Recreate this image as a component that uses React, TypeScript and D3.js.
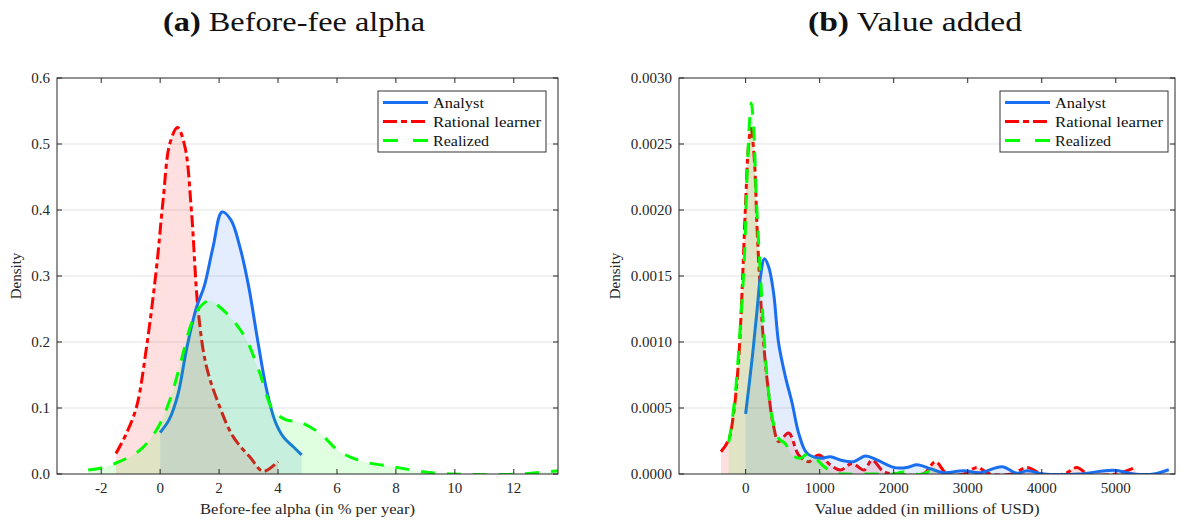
import React from 'react';
import * as d3 from 'd3';

// ---------- Panel (a): before-fee alpha ----------
const alphaXTicks = [-2, 0, 2, 4, 6, 8, 10, 12];
const alphaYTicks = [0, 0.1, 0.2, 0.3, 0.4, 0.5, 0.6];

const alphaAnalystX = [0, 0.3, 0.6, 0.9, 1.23, 1.5, 1.8, 2.1, 2.4, 2.7, 3.0, 3.3, 3.6, 3.9, 4.2, 4.5, 4.8];
const alphaAnalystY = [0.063, 0.082, 0.12, 0.19, 0.252, 0.285, 0.345, 0.397, 0.385, 0.345, 0.285, 0.205, 0.13, 0.08, 0.055, 0.042, 0.029];

const alphaRationalX = [-1.5, -1.14, -0.8, -0.46, -0.12, 0.1, 0.33, 0.59, 0.84, 1.06, 1.29, 1.57, 2.02, 2.47, 3.04, 3.5, 4.0];
const alphaRationalY = [0.031, 0.062, 0.102, 0.193, 0.314, 0.415, 0.501, 0.525, 0.496, 0.4, 0.248, 0.163, 0.102, 0.057, 0.026, 0.004, 0.019];

const alphaRealizedX = [-2.44, -1.93, -1.37, -0.69, -0.12, 0.33, 0.72, 1.06, 1.35, 1.68, 2.02, 2.47, 2.93, 3.38, 3.83, 4.28, 4.73, 5.41, 6.09, 6.88, 7.9, 8.92, 9.93, 11.1, 12.2, 13.5];
const alphaRealizedY = [0.006, 0.01, 0.019, 0.036, 0.067, 0.112, 0.173, 0.228, 0.253, 0.263, 0.253, 0.233, 0.203, 0.153, 0.097, 0.082, 0.079, 0.062, 0.034, 0.019, 0.011, 0.0035, 0, -0.001, 0, 0.005];

// ---------- Panel (b): value added ----------
const vaXTicks = [0, 1000, 2000, 3000, 4000, 5000];
const vaYTicks = [0, 0.0005, 0.001, 0.0015, 0.002, 0.0025, 0.003];

const vaAnalystX = [0, 86, 154, 199, 253, 311, 378, 446, 536, 627, 716, 829, 1009, 1145, 1280, 1459, 1618, 1776, 2000, 2180, 2316, 2496, 2676, 2946, 3172, 3464, 3667, 3802, 4023, 4500, 4973, 5243, 5513, 5716];
const vaAnalystY = [4.55, 8.64, 12.4, 14.9, 16.3, 15.7, 13.7, 9.9, 7.4, 5.4, 3.1, 1.57, 1.19, 1.31, 1.06, 0.93, 1.36, 1.06, 0.5, 0.5, 0.7, 0.4, 0.1, 0.25, 0.1, 0.55, 0.05, 0.25, 0, 0, 0.28, 0, 0, 0.33];

const vaRationalX = [-333, -230, -162, -95, -49, -4, 41, 73, 118, 154, 199, 243, 311, 378, 446, 581, 716, 848, 986, 1145, 1280, 1438, 1600, 1708, 1865, 2050, 2400, 2564, 2721, 2950, 3127, 3300, 3600, 3802, 4000, 4300, 4478, 4620, 5000, 5266];
const vaRationalY = [1.69, 2.58, 4.6, 8.6, 13.7, 20, 25, 26.2, 23.8, 18.7, 13.7, 9.9, 6.1, 3.6, 2.45, 3.1, 1.44, 0.93, 1.44, 0.68, 0.3, 0.8, 0.3, 1.06, 0.18, 0, 0, 0.93, 0, 0, 0.5, 0, 0, 0.5, 0, 0, 0.5, 0, 0, 0.5];

const vaRealizedX = [-230, -207, -139, -72, -18, 18, 54, 77, 108, 145, 189, 235, 289, 357, 446, 536, 627, 739, 829, 942, 1032, 1189, 1350, 1725, 2000, 2130, 2250, 2400, 2496, 2570];
const vaRealizedY = [2.4, 3.1, 6.1, 11.2, 16.2, 22.5, 26.8, 28.1, 26.3, 20.8, 16.2, 11.7, 7.4, 4.3, 2.7, 2.3, 1.44, 1.19, 1.5, 1.2, 0.7, 0.1, 0, 0, 0, 0.15, 0, 0, 0.3, 0.7];
const vaYScale = 1e-4; // value-added densities above are in units of 1e-4

const seriesNames = ['Analyst', 'Rational learner', 'Realized'];
const seriesColors = ['#1a6ef0', '#ff0000', '#00ff00'];
const seriesDash = ['none', '12,4,5,4', '14,12'];

type Series = { name: string; xs: number[]; ys: number[] };

const FONT = '"Liberation Serif", "Times New Roman", serif';

type PanelProps = {
  id: string;
  left: number; right: number; top: number; bottom: number;
  xDomain: [number, number]; yDomain: [number, number];
  xTicks: number[]; yTicks: number[];
  yFmt: (v: number) => string;
  series: Series[]; // analyst, rational, realized
  titleBold: string; titleRest: string; titleCx: number; titleLen: number;
  xLabel: string; xLabelLen: number;
  legendX: number; densityX: number;
};

function Panel(p: PanelProps) {
  const x = d3.scaleLinear().domain(p.xDomain).range([p.left, p.right]);
  const y = d3.scaleLinear().domain(p.yDomain).range([p.bottom, p.top]);
  const line = d3.line<[number, number]>().x(d => x(d[0])).y(d => y(d[1])).curve(d3.curveCatmullRom.alpha(0.5));
  const area = d3.area<[number, number]>().x(d => x(d[0])).y0(y(0)).y1(d => y(d[1])).curve(d3.curveCatmullRom.alpha(0.5));
  const drawOrder = [1, 0, 2];
  const axisColor = '#262626';
  const tickLen = 5;
  const lgTop = 91, lgH = 61, lgW = 168;
  const lx = p.legendX;
  return (
    <g>
      <defs>
        <clipPath id={`clip-${p.id}`}>
          <rect x={p.left} y={p.top} width={p.right - p.left} height={p.bottom - p.top} />
        </clipPath>
      </defs>
      {/* grid */}
      {p.yTicks.slice(1, -1).map((t, i) => (
        <line key={'g' + i} x1={p.left} x2={p.right} y1={y(t)} y2={y(t)} stroke="#e3e3e3" strokeWidth={1} />
      ))}
      <g clipPath={`url(#clip-${p.id})`}>
        {drawOrder.map(si => {
          const s = p.series[si];
          const pts = s.xs.map((v, i) => [v, s.ys[i]] as [number, number]);
          return (
            <g key={s.name}>
              <path d={area(pts) || ''} fill={seriesColors[si]} fillOpacity={0.12} stroke="none" />
              <path d={line(pts) || ''} fill="none" stroke={seriesColors[si]} strokeWidth={3}
                strokeDasharray={seriesDash[si]} strokeLinejoin="round" />
            </g>
          );
        })}
      </g>
      {/* box */}
      <rect x={p.left} y={p.top} width={p.right - p.left} height={p.bottom - p.top} fill="none" stroke={axisColor} strokeWidth={1} />
      {p.xTicks.map((t, i) => (
        <g key={'xt' + i}>
          <line x1={x(t)} x2={x(t)} y1={p.bottom} y2={p.bottom - tickLen} stroke={axisColor} />
          <line x1={x(t)} x2={x(t)} y1={p.top} y2={p.top + tickLen} stroke={axisColor} />
          <text x={x(t)} y={p.bottom + 19} textAnchor="middle" fontSize={15} fontFamily={FONT} fill="#262626">{String(t)}</text>
        </g>
      ))}
      {p.yTicks.map((t, i) => (
        <g key={'yt' + i}>
          <line x1={p.left} x2={p.left + tickLen} y1={y(t)} y2={y(t)} stroke={axisColor} />
          <line x1={p.right} x2={p.right - tickLen} y1={y(t)} y2={y(t)} stroke={axisColor} />
          <text x={p.left - 7} y={y(t) + 5} textAnchor="end" fontSize={15} fontFamily={FONT} fill="#262626">{p.yFmt(t)}</text>
        </g>
      ))}
      <text x={(p.left + p.right) / 2} y={514} textAnchor="middle" fontSize={15} fontFamily={FONT} fill="#262626"
        textLength={p.xLabelLen} lengthAdjust="spacingAndGlyphs">{p.xLabel}</text>
      <text transform={`translate(${p.densityX},${(p.top + p.bottom) / 2}) rotate(-90)`} textAnchor="middle"
        fontSize={15} fontFamily={FONT} fill="#262626">Density</text>
      <text x={p.titleCx} y={31} textAnchor="middle" fontSize={28} fontFamily={FONT} fill="#111"
        textLength={p.titleLen} lengthAdjust="spacingAndGlyphs">
        <tspan fontWeight="bold">{p.titleBold}</tspan> {p.titleRest}
      </text>
      {/* legend */}
      <rect x={lx} y={lgTop} width={lgW} height={lgH} fill="#fff" stroke="#333" strokeWidth={1} />
      {seriesNames.map((n, i) => {
        const ly = lgTop + 11.5 + i * 19;
        const lens = [51, 108, 56];
        return (
          <g key={n}>
            <line x1={lx + 5} x2={lx + 50} y1={ly} y2={ly} stroke={seriesColors[i]} strokeWidth={3}
              strokeDasharray={i === 0 ? 'none' : i === 1 ? '14,4,6,4' : '15,15'} />
            <text x={lx + 55} y={ly + 5} fontSize={15} fontFamily={FONT} fill="#111"
              textLength={lens[i]} lengthAdjust="spacingAndGlyphs">{n}</text>
          </g>
        );
      })}
    </g>
  );
}

export default function App() {
  const alphaSeries: Series[] = [
    { name: seriesNames[0], xs: alphaAnalystX, ys: alphaAnalystY },
    { name: seriesNames[1], xs: alphaRationalX, ys: alphaRationalY },
    { name: seriesNames[2], xs: alphaRealizedX, ys: alphaRealizedY },
  ];
  const vaSeries: Series[] = [
    { name: seriesNames[0], xs: vaAnalystX, ys: vaAnalystY.map(v => v * vaYScale) },
    { name: seriesNames[1], xs: vaRationalX, ys: vaRationalY.map(v => v * vaYScale) },
    { name: seriesNames[2], xs: vaRealizedX, ys: vaRealizedY.map(v => v * vaYScale) },
  ];
  return (
    <svg width={1180} height={522} style={{ position: 'absolute', left: 0, top: 0, background: '#fff' }}>
      <rect x={0} y={0} width={1180} height={522} fill="#fff" />
      <Panel id="a" left={57} right={558} top={78} bottom={474}
        xDomain={[-3.5, 13.5]} yDomain={[0, 0.6]} xTicks={alphaXTicks} yTicks={alphaYTicks}
        yFmt={v => d3.format('.1f')(v)} series={alphaSeries}
        titleBold="(a)" titleRest="Before-fee alpha" titleCx={294} titleLen={262}
        xLabel="Before-fee alpha (in % per year)" xLabelLen={215} legendX={378} densityX={21} />
      <Panel id="b" left={679} right={1175} top={78} bottom={474}
        xDomain={[-900, 5800]} yDomain={[0, 0.003]} xTicks={vaXTicks} yTicks={vaYTicks}
        yFmt={v => d3.format('.4f')(v)} series={vaSeries}
        titleBold="(b)" titleRest="Value added" titleCx={915} titleLen={214}
        xLabel="Value added (in millions of USD)" xLabelLen={225} legendX={1000} densityX={620} />
    </svg>
  );
}
